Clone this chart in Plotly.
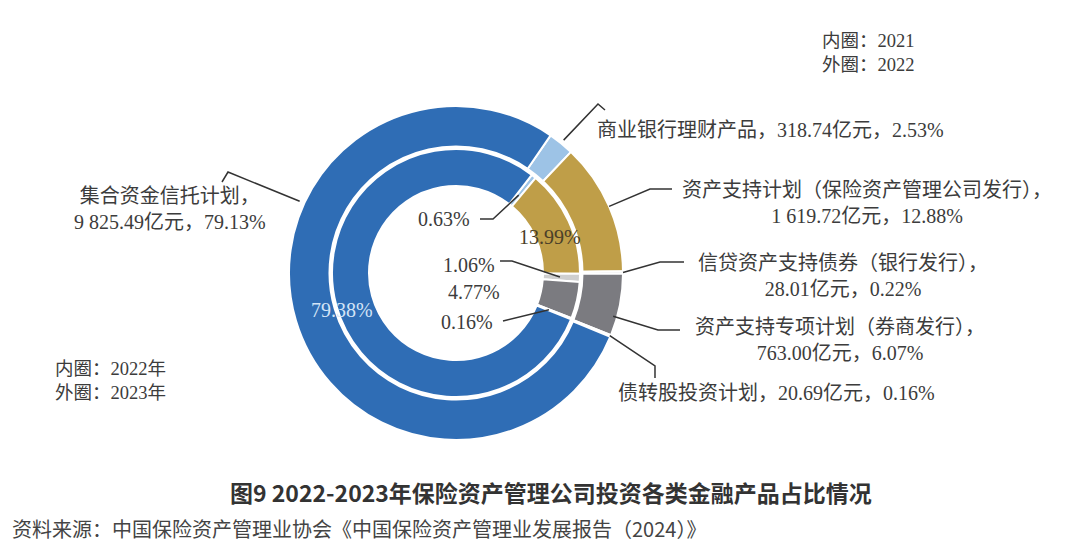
import math
import plotly.graph_objects as go

W, H = 1080, 547
OFF = 8  # page body margin in the browser

# data
categories = ["商业银行理财产品", "资产支持计划（保险资产管理公司发行）", "信贷资产支持债券（银行发行）",
              "资产支持专项计划（券商发行）", "债转股投资计划", "集合资金信托计划"]
amount_2023 = [318.74, 1619.72, 28.01, 763.00, 20.69, 9825.49]   # 亿元
pct_2023 = [2.53, 12.88, 0.22, 6.07, 0.16, 79.13]                # 外圈
pct_2022 = [0.63, 13.99, 1.06, 4.77, 0.16, 79.38]                # 内圈
colors = ["#9dc3e6", "#bf9e48", "#cfcfcf", "#7b7b80", "#dcdcdc", "#2f6db5"]

# geometry (pixels, page coordinates)
CX, CY = 456, 273
R_OUT, R_SEP, R_IN, R_HOLE = 167, 126.5, 124, 87
ROT_OUT, ROT_IN = 34.5, 37.7

FW, FH = W - OFF, H - OFF


def P(x, y):
    return (x - OFF) / FW, 1 - (y - OFF) / FH


def angles(vals, rot):
    tot = sum(vals)
    out, a = [], rot
    for v in vals:
        b = a + v / tot * 360
        out.append((a, b))
        a = b
    return out


def ring_pt(vals, rot, i, r, frac=0.5):
    a0, a1 = angles(vals, rot)[i]
    a = math.radians(a0 + (a1 - a0) * frac)
    return CX + r * math.sin(a), CY - r * math.cos(a)


def dom(r):
    x0, y0 = P(CX - r, CY + r)
    x1, y1 = P(CX + r, CY - r)
    return dict(x=[x0, x1], y=[y0, y1])


fig = go.Figure()
fig.add_trace(go.Pie(
    labels=categories, values=pct_2023, sort=False, direction="clockwise", rotation=ROT_OUT,
    hole=R_SEP / R_OUT, domain=dom(R_OUT), textinfo="none", showlegend=False,
    marker=dict(colors=colors, line=dict(color="white", width=2)),
))
fig.add_trace(go.Pie(
    labels=categories, values=pct_2022, sort=False, direction="clockwise", rotation=ROT_IN,
    hole=R_HOLE / R_IN, domain=dom(R_IN), textinfo="none", showlegend=False,
    marker=dict(colors=colors, line=dict(color="white", width=2)),
))

serif = "Liberation Serif, Noto Sans CJK SC"
sans = "Noto Sans CJK SC, Noto Sans"
txt_col = "#3c3c3c"


def fmt(v):
    return f"{v:,.2f}".replace(",", " ")


lab = [f"{c}，{fmt(a)}亿元，{p:.2f}%" for c, a, p in zip(categories, amount_2023, pct_2023)]
for i in (1, 2, 3, 5):
    lab[i] = f"{categories[i]}，<br>{fmt(amount_2023[i])}亿元，{pct_2023[i]:.2f}%"

# label placement: (x, y, xanchor)
lab_pos = [(595, 130, "left"), (867, 203, "center"), (843, 276, "center"),
           (840, 340, "center"), (616, 393, "left"), (170, 209, "center")]

annotations = []
for t, (x, y, xa) in zip(lab, lab_pos):
    px, py = P(x, y)
    annotations.append(dict(x=px, y=py, xref="paper", yref="paper", text=t, showarrow=False,
                            xanchor=xa, yanchor="middle", align="center",
                            font=dict(family=serif, size=20, color=txt_col)))

# inner ring percentages
inner_txt = [(f"{pct_2022[0]:.2f}%", 472, 219, "right", txt_col),
             (f"{pct_2022[1]:.2f}%", 550, 237, "center", "#4a3f28"),
             (f"{pct_2022[2]:.2f}%", 497, 265, "right", txt_col),
             (f"{pct_2022[3]:.2f}%", 502, 292, "right", txt_col),
             (f"{pct_2022[4]:.2f}%", 495, 322, "right", txt_col),
             (f"{pct_2022[5]:.2f}%", 342, 310, "center", "#d3e4f7")]
for t, x, y, xa, c in inner_txt:
    px, py = P(x, y)
    annotations.append(dict(x=px, y=py, xref="paper", yref="paper", text=t, showarrow=False,
                            xanchor=xa, yanchor="middle",
                            font=dict(family=serif, size=20, color=c)))

# year notes
for t, x, y in [("内圈：2021<br>外圈：2022", 820, 53), ("内圈：2022年<br>外圈：2023年", 53, 381)]:
    px, py = P(x, y)
    annotations.append(dict(x=px, y=py, xref="paper", yref="paper", text=t, showarrow=False,
                            xanchor="left", yanchor="middle", align="left",
                            font=dict(family=serif, size=18.5, color=txt_col)))

px, py = P(551, 492)
annotations.append(dict(x=px, y=py, xref="paper", yref="paper", showarrow=False,
                        text="<b>图9 2022-2023年保险资产管理公司投资各类金融产品占比情况</b>",
                        xanchor="center", yanchor="middle",
                        font=dict(family=sans, size=23, color="#333333")))
px, py = P(10, 528)
annotations.append(dict(x=px, y=py, xref="paper", yref="paper", showarrow=False,
                        text="资料来源：中国保险资产管理业协会《中国保险资产管理业发展报告（2024）》",
                        xanchor="left", yanchor="middle",
                        font=dict(family=sans, size=20, color="#444444")))

# leader lines
leaders = [
    [ring_pt(pct_2023, ROT_OUT, 0, 171), (598, 104), (605, 110)],
    [ring_pt(pct_2023, ROT_OUT, 1, 167), (650, 189), (672, 189)],
    [ring_pt(pct_2023, ROT_OUT, 2, 167), (660, 262), (684, 262)],
    [ring_pt(pct_2023, ROT_OUT, 3, 163, 0.7), (658, 330), (680, 330)],
    [ring_pt(pct_2023, ROT_OUT, 4, 166), (655, 366), (655, 378)],
    [ring_pt(pct_2023, ROT_OUT, 5, 172, 0.646), (228, 172), (222, 182)],
    [(480, 219), (493, 219), ring_pt(pct_2022, ROT_IN, 0, 100)],
    [(500, 261), (512, 261), ring_pt(pct_2022, ROT_IN, 2, 104)],
    [(503, 321), ring_pt(pct_2022, ROT_IN, 4, 100)],
]
shapes = []
for pts in leaders:
    path = ""
    for k, (x, y) in enumerate(pts):
        px, py = P(x, y)
        path += ("M" if k == 0 else " L") + f" {px:.5f} {py:.5f}"
    shapes.append(dict(type="path", path=path, xref="paper", yref="paper",
                       line=dict(color="#333333", width=1.5)))

fig.update_layout(
    width=FW, height=FH, margin=dict(l=0, r=0, t=0, b=0),
    paper_bgcolor="white", plot_bgcolor="white",
    annotations=annotations, shapes=shapes,
)

fig.write_html("out.html")
